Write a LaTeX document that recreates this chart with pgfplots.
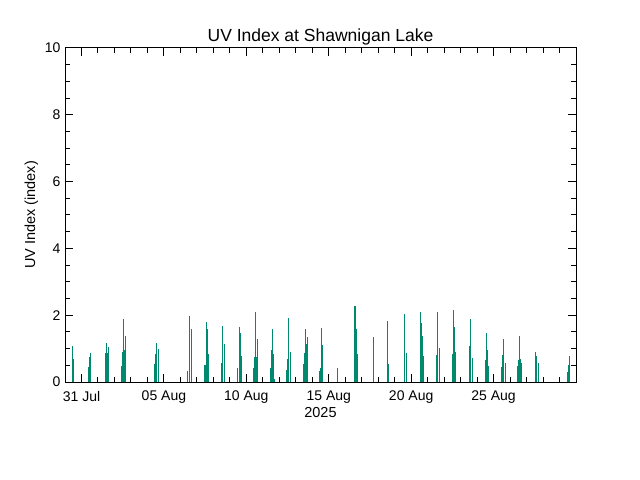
\documentclass[border=0pt]{standalone}
\usepackage{pgfplots}
\pgfplotsset{compat=1.18}
\usepackage{fontspec}
\setmainfont{Liberation Sans}
\definecolor{uvteal}{RGB}{0,137,110}
\begin{document}
\begin{tikzpicture}
\path[use as bounding box] (-65bp,-98bp) rectangle (575bp,382bp);
\begin{axis}[
  scale only axis,
  width=511bp, height=334bp,
  xmin=-1, xmax=30, ymin=0, ymax=10,
  axis line style={line width=1bp},
  every tick/.style={black, line width=1bp},
  tick align=inside,
  major tick length=8bp, minor tick length=5bp,
  xtick={0,5,10,15,20,25},
  xticklabels={31 Jul,05 Aug,10 Aug,15 Aug,20 Aug,25 Aug},
  minor xtick={-1,0,...,30},
  ytick={0,2,4,6,8,10},
  minor ytick={0.5,1,...,9.5},
  xtick pos=both, ytick pos=both,
  /pgf/number format/assume math mode=true,
  tick label style={font=\fontsize{14bp}{16bp}\selectfont},
  xticklabel style={yshift=-8bp, inner sep=1bp},
  yticklabel style={xshift=-1bp},
  label style={font=\fontsize{14.5bp}{16bp}\selectfont},
  xlabel={2025},
  xlabel style={yshift=-1bp, inner sep=1bp},
  ylabel={UV Index (index)},
  ylabel style={yshift=0bp},
  title={UV Index at Shawnigan Lake},
  title style={font=\fontsize{17.5bp}{20bp}\selectfont, yshift=-7bp},
  clip=true,
]
\addplot[ycomb, color=uvteal, line width=1.05bp, mark=none] coordinates {
(-0.545,1.08) (-0.484,0.69)
(0.426,0.45) (0.487,0.75) (0.547,0.87)
(1.458,0.87) (1.518,1.17) (1.579,0.87) (1.640,1.05)
(2.428,0.48) (2.489,0.90) (2.550,1.89) (2.610,0.96) (2.671,1.38)
(4.431,0.54) (4.492,0.84) (4.552,1.17) (4.674,0.99)
(6.433,0.33) (6.555,1.98) (6.676,1.59)
(7.465,0.51) (7.525,0.51) (7.586,1.80) (7.647,1.59) (7.707,0.84)
(8.497,0.57) (8.557,1.68) (8.679,1.14)
(9.467,0.42) (9.588,1.65) (9.649,1.47) (9.710,0.78)
(10.438,0.42) (10.499,0.75) (10.560,2.10) (10.620,0.75) (10.681,1.29)
(11.470,0.42) (11.530,0.96) (11.591,1.59) (11.651,0.84) (11.712,0.09)
(12.441,0.36) (12.501,0.69) (12.562,1.92) (12.684,0.90)
(13.472,0.54) (13.533,0.87) (13.593,1.59) (13.654,1.14) (13.715,1.35)
(14.443,0.33) (14.504,0.42) (14.564,1.62) (14.625,1.11)
(15.535,0.42)
(16.567,2.28) (16.627,2.28) (16.688,1.59) (16.749,0.84)
(17.720,1.35)
(18.569,1.83) (18.630,0.54)
(19.601,2.04) (19.722,0.87)
(20.572,2.10) (20.633,1.77) (20.693,1.38) (20.754,0.78)
(21.543,0.81) (21.604,2.10) (21.725,1.02)
(22.513,0.84) (22.574,2.16) (22.635,1.65) (22.695,0.90)
(23.545,1.08) (23.605,1.89) (23.727,0.72)
(24.516,0.66) (24.576,1.47) (24.637,0.96) (24.698,0.48)
(25.487,0.45) (25.547,0.81) (25.608,1.29) (25.729,0.57)
(26.458,0.48) (26.518,0.66) (26.579,1.38) (26.640,0.69) (26.700,0.57)
(27.550,0.90) (27.610,0.78) (27.731,0.57)
(29.490,0.30) (29.552,0.51) (29.613,0.78)
};
\end{axis}
\end{tikzpicture}
\end{document}
